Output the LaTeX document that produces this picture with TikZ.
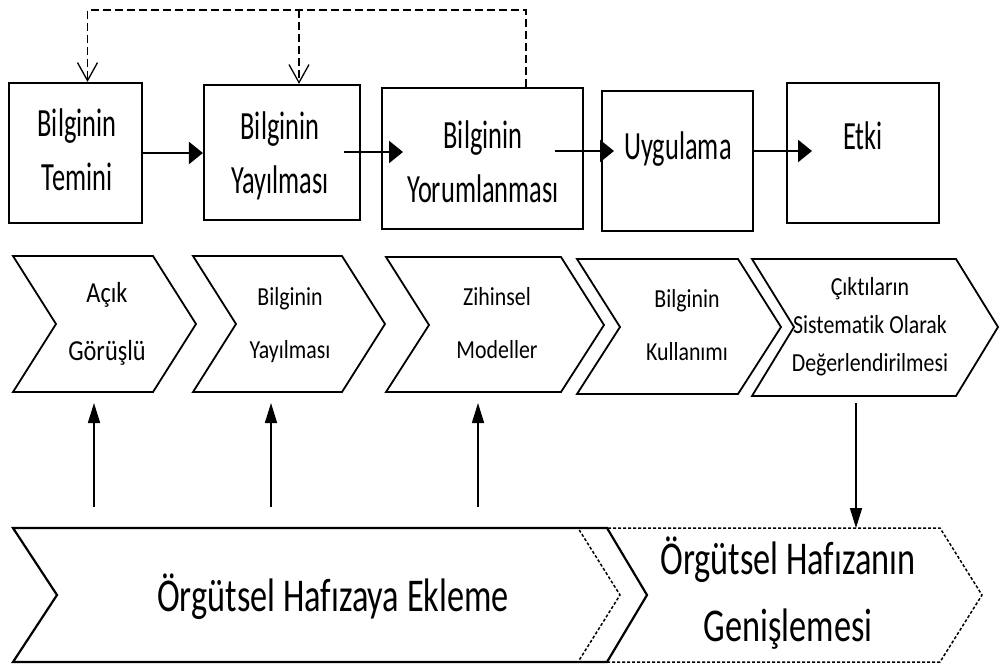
\documentclass[tikz,border=0pt]{standalone}
\usepackage{fontspec}
\setmainfont{Carlito}[Ligatures=NoCommon]
\newfontfamily\fTop[FakeStretch=0.66,Ligatures=NoCommon]{Carlito}
\newfontfamily\fChev[FakeStretch=0.84,Ligatures=NoCommon]{Carlito}
\newfontfamily\fBand[FakeStretch=0.73,Ligatures=NoCommon]{Carlito}
\usetikzlibrary{arrows.meta,calc}
\begin{document}
\begin{tikzpicture}[x=1pt,y=-1pt,
  boxnode/.style={draw, line width=2.2pt, inner sep=0pt},
  toptext/.style={align=center, inner sep=0pt, font=\fTop\fontsize{40pt}{54pt}\selectfont},
  chevtext/.style={align=center, inner sep=0pt, font=\fChev\fontsize{26pt}{53pt}\selectfont},
  bandtext/.style={align=center, inner sep=0pt, font=\fBand\fontsize{47pt}{67pt}\selectfont},
  chev/.style={draw, line width=1.8pt, line join=miter},
  harr/.style={line width=2.6pt, -{Triangle[length=14pt,width=22pt]}},
  varr/.style={line width=1.6pt, -{Triangle[length=20pt,width=12pt]}},
  fbk/.style={line width=1.3pt, dash pattern=on 8pt off 4pt, -{Straight Barb[length=18pt,width=20pt,line width=1.3pt]}},
  fine/.style={draw, line width=1.5pt, dash pattern=on 3pt off 2pt}
]
\useasboundingbox (0,0) rectangle (1001,667);
\fill[white] (0,0) rectangle (1001,667);

% top boxes
\node[boxnode, minimum width=133pt, minimum height=140pt] (b1) at (75.5,153) {};
\node[boxnode, minimum width=156pt, minimum height=135pt] (b2) at (282,152.5) {};
\node[boxnode, minimum width=201pt, minimum height=141pt] (b3) at (482.5,158.5) {};
\node[boxnode, minimum width=151pt, minimum height=140pt] (b4) at (677.5,161) {};
\node[boxnode, minimum width=152pt, minimum height=140pt] (b5) at (863,153) {};

\node[toptext] (t1) at (77,150) {Bilginin\\Temini};
\node[toptext] (t2) at (280,156) {Bilginin\\Yayılması};
\node[toptext] (t3) at (483,162) {Bilginin\\Yorumlanması};
\node[toptext] (t4) at (678,149) {Uygulama};
\node[toptext] (t5) at (863,136) {Etki};

% top arrows
\coordinate (a23s) at (344,152);
\coordinate (a23e) at (403,152);
\coordinate (a34s) at (555,151);
\coordinate (a34e) at (614,151);
\coordinate (a45e) at (812,151);
\draw[harr] (b1.east) -- (b1.east -| b2.west);
\draw[harr] (a23s) -- (a23e);
\draw[harr] (a34s) -- (a34e);
\draw[harr] (b4.east |- a45e) -- (a45e);

% dashed feedback
\coordinate (top) at (0,10);
\coordinate (b2t) at ([xshift=17pt]b2.north);
\draw[fbk] ([xshift=43.5pt]b3.north) -- ([xshift=43.5pt]b3.north |- top) -| ([xshift=12pt]b1.north);
\draw[fbk] (b2t |- top) -- (b2t);

% chevrons row
\draw[chev] (13,256) -- (153,256) -- (196,324) -- (153,392) -- (13,392) -- (56,324) -- cycle;
\draw[chev] (193,256) -- (342,256) -- (385,324) -- (342,392) -- (193,392) -- (236,324) -- cycle;
\draw[chev] (386,257) -- (561,257) -- (604,325) -- (561,392) -- (386,392) -- (429,325) -- cycle;
\draw[chev] (577,259) -- (738,259) -- (781,327) -- (738,394) -- (577,394) -- (620,327) -- cycle;
\draw[chev] (752,259) -- (956,259) -- (998,327) -- (956,396) -- (752,396) -- (794,327) -- cycle;

\node[chevtext, font=\fChev\fontsize{29pt}{58pt}\selectfont] (c1) at (107,324) {Açık\\Görüşlü};
\node[chevtext] (c2) at (290,325) {Bilginin\\Yayılması};
\node[chevtext] (c3) at (497,323) {Zihinsel\\Modeller};
\node[chevtext] (c4) at (687,325) {Bilginin\\Kullanımı};
\node[chevtext, font=\fChev\fontsize{26pt}{38pt}\selectfont] (c5) at (870,327) {Çıktıların\\Sistematik Olarak\\Değerlendirilmesi};

% bottom band
\draw[fine] (578,528) -- (940,528) -- (982,595) -- (940,662) -- (578,662) -- (620,595) -- cycle;
\draw[chev, line width=2.2pt] (13,528) -- (607,528) -- (647,595) -- (607,662) -- (13,662) -- (57,595) -- cycle;
\node[bandtext] (e1) at (333,597) {Örgütsel Hafızaya Ekleme};
\node[bandtext] (e2) at (788,593) {Örgütsel Hafızanın\\Genişlemesi};

% vertical arrows
\coordinate (u1s) at (94,507);   \coordinate (u1e) at (94,403);
\coordinate (u2s) at (271,507);  \coordinate (u2e) at (271,403);
\coordinate (u3s) at (478,507);  \coordinate (u3e) at (478,403);
\coordinate (d1s) at (856,403);  \coordinate (d1e) at (856,528);
\draw[varr] (u1s) -- (u1e);
\draw[varr] (u2s) -- (u2e);
\draw[varr] (u3s) -- (u3e);
\draw[varr] (d1s) -- (d1e);
\end{tikzpicture}
\end{document}
